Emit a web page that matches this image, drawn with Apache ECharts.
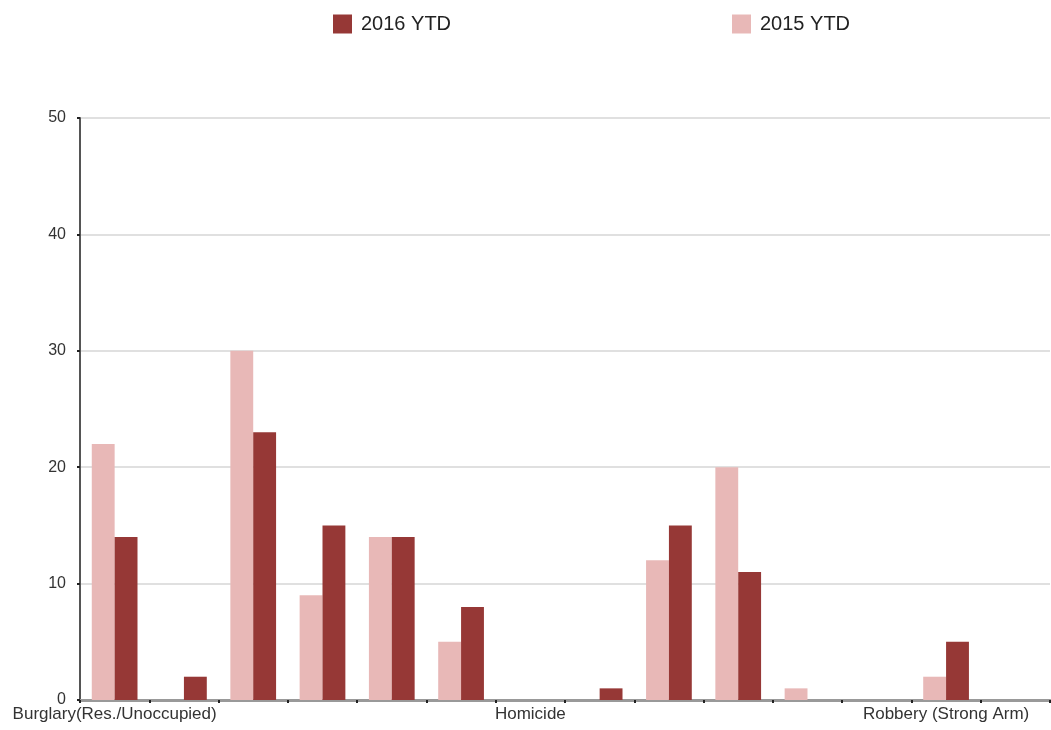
<!DOCTYPE html>
<html>
<head>
<meta charset="utf-8">
<script src="https://cdn.jsdelivr.net/npm/echarts@6/dist/echarts.min.js"></script>
<style>html,body{margin:0;padding:0;background:#fff}#c{width:1051px;height:730px}</style>
</head>
<body>
<div id="c"></div>
<script>
const categories = [
  "Burglary(Res./Unoccupied)", "Burglary(Res./Occupied)", "Burglary(Vehicle)", "Burglary(Commercial)",
  "Aggravated Assault", "Auto Theft", "Homicide", "Rape", "Larceny(Other)", "Larceny(From Vehicle)",
  "Robbery (Armed)", "Robbery (Business)", "Robbery (Strong Arm)", "Robbery (Individual)"
];
const ytd2015 = [22, 0, 30, 9, 14, 5, 0, 0, 12, 20, 1, 0, 2, 0];
const ytd2016 = [14, 2, 23, 15, 14, 8, 0, 1, 15, 11, 0, 0, 5, 0];
const yTicks = { min: 0, max: 50, interval: 10 };

const legendCommon = {
  top: 14, padding: 0, itemWidth: 19, itemHeight: 19, icon: 'rect',
  textStyle: { fontSize: 20, color: '#222', padding: [0, 0, 0, 4] }
};

const chart = echarts.init(document.getElementById('c'));
chart.setOption({
  animation: false,
  textStyle: { fontFamily: 'Liberation Sans, Arial, sans-serif' },
  legend: [
    Object.assign({ left: 333, data: ['2016 YTD'] }, legendCommon),
    Object.assign({ left: 732, data: ['2015 YTD'] }, legendCommon)
  ],
  grid: { left: 80, right: 1, top: 118, bottom: 30, containLabel: false },
  xAxis: {
    type: 'category',
    data: categories,
    axisLine: { lineStyle: { color: '#999', width: 3 } },
    axisTick: { show: true, interval: 0, length: 3, lineStyle: { color: '#222', width: 2 } },
    axisLabel: { interval: 5, fontSize: 17, color: '#333', margin: 6 },
    splitLine: { show: false }
  },
  yAxis: {
    type: 'value',
    min: yTicks.min, max: yTicks.max, interval: yTicks.interval,
    axisLine: { show: true, lineStyle: { color: '#555', width: 2 } },
    axisTick: { show: true, length: 3, lineStyle: { color: '#222', width: 2 } },
    axisLabel: { fontSize: 16, color: '#333', margin: 14 },
    splitLine: { lineStyle: { color: '#e0e0e0', width: 2 } }
  },
  series: [
    { name: '2015 YTD', type: 'bar', data: ytd2015, itemStyle: { color: '#e8b8b7' }, barGap: '0%', barCategoryGap: '34%' },
    { name: '2016 YTD', type: 'bar', data: ytd2016, itemStyle: { color: '#963836' }, barGap: '0%', barCategoryGap: '34%' }
  ]
});
</script>
</body>
</html>
